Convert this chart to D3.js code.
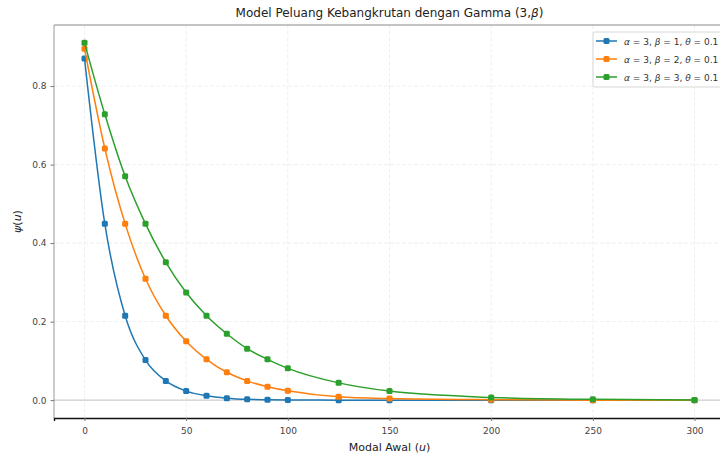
<!DOCTYPE html>
<html>
<head>
<meta charset="utf-8">
<script src="https://d3js.org/d3.v7.min.js"></script>
<style>
  body { margin: 0; background: #fff; }
  svg { font-family: "DejaVu Sans", sans-serif; }
</style>
</head>
<body>
<svg id="chart" width="720" height="457"></svg>
<script>
// data
var uValues = [0, 10, 20, 30, 40, 50, 60, 70, 80, 90, 100, 125, 150, 200, 250, 300];
var psiBeta1 = [0.870, 0.449, 0.215, 0.102, 0.049, 0.023, 0.011, 0.005, 0.002, 0.001, 0.0005, 0.0, 0.0, 0.0, 0.0, 0.0];
var psiBeta2 = [0.895, 0.641, 0.449, 0.309, 0.215, 0.150, 0.104, 0.071, 0.049, 0.034, 0.024, 0.0085, 0.004, 0.001, 0.0, 0.0];
var psiBeta3 = [0.910, 0.728, 0.570, 0.449, 0.351, 0.274, 0.215, 0.169, 0.131, 0.104, 0.081, 0.044, 0.023, 0.007, 0.002, 0.0005];
var betas = [1, 2, 3];
var colors = ["#1f77b4", "#ff7f0e", "#2ca02c"];
var xTicks = [0, 50, 100, 150, 200, 250, 300];
var yTicks = [0.0, 0.2, 0.4, 0.6, 0.8];

var series = [psiBeta1, psiBeta2, psiBeta3];

var svg = d3.select("#chart");
var pLeft = 54, pRight = 725, pTop = 25, pBottom = 418;

var x = d3.scaleLinear().domain([-15, 315]).range([pLeft, pRight]);
var y = d3.scaleLinear().domain([-0.0455, 0.9555]).range([pBottom, pTop]);

// grid
var grid = svg.append("g");
grid.selectAll(".gx").data(xTicks).enter().append("line")
    .attr("x1", d => x(d)).attr("x2", d => x(d))
    .attr("y1", pTop).attr("y2", pBottom)
    .attr("stroke", "#ebebeb").attr("stroke-width", 0.8).attr("stroke-dasharray", "4,2");
grid.selectAll(".gy").data(yTicks).enter().append("line")
    .attr("x1", pLeft).attr("x2", pRight)
    .attr("y1", d => y(d)).attr("y2", d => y(d))
    .attr("stroke", "#ebebeb").attr("stroke-width", 0.8).attr("stroke-dasharray", "4,2");

// zero reference line
svg.append("line")
    .attr("x1", pLeft).attr("x2", pRight)
    .attr("y1", y(0)).attr("y2", y(0))
    .attr("stroke", "#c4c4c4").attr("stroke-width", 1);

// spines
svg.append("line").attr("x1", pLeft).attr("x2", pRight).attr("y1", pTop).attr("y2", pTop)
    .attr("stroke", "#888").attr("stroke-width", 1);
svg.append("line").attr("x1", pLeft).attr("x2", pLeft).attr("y1", pTop).attr("y2", pBottom)
    .attr("stroke", "#999").attr("stroke-width", 1);

// axes
var xAxis = svg.append("g").attr("transform", "translate(0," + pBottom + ")")
    .call(d3.axisBottom(x).tickValues(xTicks).tickFormat(d3.format("d")).tickSize(3).tickPadding(7));
xAxis.select(".domain").attr("stroke", "#111").attr("stroke-width", 1.4);
var yAxis = svg.append("g").attr("transform", "translate(" + pLeft + ",0)")
    .call(d3.axisLeft(y).tickValues(yTicks).tickFormat(d3.format(".1f")).tickSize(3.5).tickPadding(4));
yAxis.select(".domain").remove();
svg.selectAll(".tick text").attr("font-size", 9).attr("fill", "#444").attr("font-family", "DejaVu Sans");
svg.selectAll(".tick line").attr("stroke", "#777");

// lines and markers
var line = d3.line()
    .x((d, i) => x(uValues[i]))
    .y(d => y(d))
    .curve(d3.curveMonotoneX);

series.forEach(function(vals, k) {
    svg.append("path")
        .attr("d", line(vals))
        .attr("fill", "none")
        .attr("stroke", colors[k])
        .attr("stroke-width", 1.5);
    svg.selectAll(".m" + k).data(vals).enter().append("rect")
        .attr("x", (d, i) => x(uValues[i]) - 3)
        .attr("y", d => y(d) - 3)
        .attr("width", 6).attr("height", 6).attr("rx", 1.5)
        .attr("fill", colors[k]);
});

// title and labels
svg.append("text").attr("x", (pLeft + pRight) / 2).attr("y", 17)
    .attr("text-anchor", "middle").attr("font-size", 12).attr("fill", "#222")
    .html('Model Peluang Kebangkrutan dengan Gamma (3,<tspan font-style="italic">β</tspan>)');
svg.append("text").attr("x", (pLeft + pRight) / 2).attr("y", 451)
    .attr("text-anchor", "middle").attr("font-size", 11).attr("fill", "#222")
    .html('Modal Awal (<tspan font-style="italic">u</tspan>)');
svg.append("text").attr("transform", "translate(21," + ((pTop + pBottom) / 2) + ") rotate(-90)")
    .attr("text-anchor", "middle").attr("font-size", 11).attr("fill", "#222")
    .html('<tspan font-style="italic">ψ</tspan>(<tspan font-style="italic">u</tspan>)');

// legend
var lg = svg.append("g").attr("transform", "translate(593,32)");
lg.append("rect").attr("x", 0).attr("y", 0).attr("width", 140).attr("height", 55)
    .attr("rx", 2).attr("fill", "#fff").attr("fill-opacity", 0.8)
    .attr("stroke", "#d8d8d8");
betas.forEach(function(b, k) {
    var yy = 9 + k * 18;
    lg.append("line").attr("x1", 3).attr("x2", 24).attr("y1", yy).attr("y2", yy)
        .attr("stroke", colors[k]).attr("stroke-width", 1.5);
    lg.append("rect").attr("x", 10.5).attr("y", yy - 3).attr("width", 6).attr("height", 6)
        .attr("rx", 1.5).attr("fill", colors[k]);
    lg.append("text").attr("x", 31).attr("y", yy + 3.5).attr("font-size", 9).attr("fill", "#333")
        .html('<tspan font-style="italic">α</tspan> = 3, <tspan font-style="italic">β</tspan> = ' + b +
              ', <tspan font-style="italic">θ</tspan> = 0.1');
});
</script>
</body>
</html>
